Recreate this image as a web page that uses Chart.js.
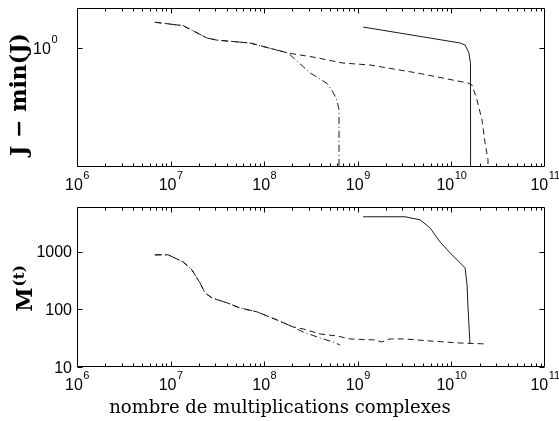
<!DOCTYPE html>
<html>
<head>
<meta charset="utf-8">
<script src="https://cdn.jsdelivr.net/npm/chart.js@4.4.1/dist/chart.umd.min.js"></script>
<style>
  body { margin: 0; background: #fff; }
  #wrap { position: relative; width: 559px; height: 421px; overflow: hidden; }
  canvas { position: absolute; left: 0; }
</style>
</head>
<body>
<div id="wrap">
  <canvas id="chartJ" width="559" height="200" style="top:0px"></canvas>
  <canvas id="chartM" width="559" height="221" style="top:200px"></canvas>
</div>
<script>
// axis ticks
var xTicks = [1e6, 1e7, 1e8, 1e9, 1e10, 1e11];
var jTicks = [1];
var mTicks = [10, 100, 1000];

// top panel: J - min(J)
var jDashDotX = [6.8e6, 1.36e7, 2.45e7, 3.13e7, 7.05e7, 1.37e8, 1.8e8, 3.08e8, 4.69e8, 5.43e8, 6.0e8, 6.3e8, 6.3e8];
var jDashDotY = [1.45, 1.38, 1.155, 1.12, 1.075, 0.97, 0.93, 0.70, 0.60, 0.53, 0.47, 0.41, 0.001];
var jDashX = [6.8e6, 1.36e7, 2.45e7, 3.13e7, 7.05e7, 1.37e8, 1.8e8, 3.32e8, 6.95e8, 1.35e9, 4.29e9, 1.5e10, 1.66e10, 1.88e10, 2.12e10, 2.29e10, 2.46e10, 2.48e10];
var jDashY = [1.45, 1.38, 1.155, 1.12, 1.075, 0.97, 0.93, 0.878, 0.805, 0.783, 0.698, 0.604, 0.587, 0.473, 0.355, 0.255, 0.2, 0.001];
var jSolidX = [1.14e9, 2.82e9, 1.24e10, 1.40e10, 1.54e10, 1.60e10, 1.61e10];
var jSolidY = [1.353, 1.24, 1.075, 1.044, 0.93, 0.80, 0.001];

// bottom panel: M(t)
var mDashDotX = [6.8e6, 9.4e6, 1.36e7, 1.69e7, 2.06e7, 2.33e7, 2.77e7, 4.0e7, 5.5e7, 8.4e7, 1.37e8, 2.03e8, 2.6e8, 3.95e8, 5.43e8, 6.45e8];
var mDashDotY = [887, 887, 670, 486, 289, 194, 158, 130, 106, 90.5, 65.6, 49.6, 40.6, 31.9, 27.2, 24.1];
var mDashX = [6.8e6, 9.4e6, 1.36e7, 1.69e7, 2.06e7, 2.33e7, 2.77e7, 4.0e7, 5.5e7, 8.4e7, 1.37e8, 2.03e8, 2.6e8, 3.95e8, 5.98e8, 8.26e8, 1.53e9, 1.81e9, 2.21e9, 3.19e9, 5.9e9, 1.24e10, 2.4e10];
var mDashY = [887, 887, 670, 486, 289, 194, 158, 130, 106, 90.5, 65.6, 49.6, 45.8, 37.5, 34.6, 30.7, 29.5, 27.2, 30.7, 30.7, 28.3, 26.1, 25.1];
var mSolidX = [1.14e9, 3.19e9, 4.62e9, 5.9e9, 7.55e9, 9.66e9, 1.24e10, 1.40e10, 1.47e10, 1.50e10, 1.54e10, 1.58e10];
var mSolidY = [4060, 4060, 3600, 2610, 1490, 961, 644, 527, 267, 120, 53.7, 25.1];

function pts(xs, ys) {
    return xs.map(function (x, i) { return { x: x, y: ys[i] }; });
}

// a "solid" dash keeps chart.js off its fast path, which mangles the steep drops
var SOLID = [2000, 0];

function line(data, dash) {
    return {
        data: data,
        showLine: true,
        borderColor: '#1a1a1a',
        borderWidth: 1,
        borderDash: dash,
        pointRadius: 0,
        fill: false
    };
}

var BASE_FONT = '16px "Liberation Sans"';
var EXP_FONT = '11px "Liberation Sans"';

// "10" with a raised exponent, like matlab's tick labels
function drawPow(ctx, x, y, v, align) {
    var exp = String(Math.round(Math.log10(v)));
    ctx.font = BASE_FONT;
    var wb = ctx.measureText('10').width;
    ctx.font = EXP_FONT;
    var we = ctx.measureText(exp).width;
    var x0 = align == 'center' ? x - (wb + we) / 2 : x - wb - we;
    ctx.textAlign = 'left';
    ctx.font = BASE_FONT;
    ctx.fillText('10', x0, y);
    ctx.font = EXP_FONT;
    ctx.fillText(exp, x0 + wb + 0.5, y - 11);
}

// box, inward tick marks, tick labels and titles
var matlabAxes = {
    id: 'matlabAxes',
    afterDraw: function (chart, args, o) {
        var a = chart.chartArea, ctx = chart.ctx;
        var sx = chart.scales.x, sy = chart.scales.y;
        var L = Math.round(a.left) + 0.5, R = Math.round(a.right) - 0.5;
        var T = Math.round(a.top) + 0.5, B = Math.round(a.bottom) - 0.5;
        ctx.save();
        ctx.strokeStyle = '#000';
        ctx.lineWidth = 1;
        ctx.beginPath();
        ctx.rect(L, T, R - L, B - T);
        for (var d = 6; d <= 10; d++) {
            for (var m = 1; m <= 9; m++) {
                var px = Math.round(sx.getPixelForValue(m * Math.pow(10, d))) + 0.5;
                var len = m == 1 ? 5 : 3;
                ctx.moveTo(px, B); ctx.lineTo(px, B - len);
                ctx.moveTo(px, T); ctx.lineTo(px, T + len);
            }
        }
        o.yTicks.forEach(function (v) {
            var py = Math.round(sy.getPixelForValue(v)) + 0.5;
            ctx.moveTo(L, py); ctx.lineTo(L + 5, py);
            ctx.moveTo(R, py); ctx.lineTo(R - 5, py);
        });
        ctx.stroke();

        ctx.fillStyle = '#000';
        ctx.textBaseline = 'alphabetic';
        xTicks.forEach(function (v) {
            drawPow(ctx, sx.getPixelForValue(v), a.bottom + 23, v, 'center');
        });
        o.yTicks.forEach(function (v) {
            var py = sy.getPixelForValue(v);
            if (o.yPow) {
                drawPow(ctx, a.left - o.yGap, py + 5.5, v, 'right');
            } else {
                ctx.font = BASE_FONT;
                ctx.textAlign = 'right';
                ctx.fillText(String(v), a.left - o.yGap, py + 5.5);
            }
        });

        // x title, centred on the figure as matlab does
        if (o.xTitle) {
            ctx.font = '18px "DejaVu Serif"';
            ctx.textAlign = 'center';
            ctx.fillText(o.xTitle, 280, a.bottom + 46);
        }

        // rotated y title
        ctx.translate(o.titleX, o.titleY);
        ctx.rotate(-Math.PI / 2);
        ctx.textAlign = 'left';
        ctx.font = 'bold 22px "DejaVu Serif"';
        var w1 = ctx.measureText(o.title).width, w2 = 0;
        if (o.titleSup) {
            ctx.font = 'bold 15px "DejaVu Serif"';
            w2 = ctx.measureText(o.titleSup).width;
        }
        var start = -(w1 + w2) / 2;
        ctx.font = 'bold 22px "DejaVu Serif"';
        ctx.fillText(o.title, start, 0);
        if (o.titleSup) {
            ctx.font = 'bold 15px "DejaVu Serif"';
            ctx.fillText(o.titleSup, start + w1 + 1, -8);
        }
        ctx.restore();
    }
};

function makeChart(id, datasets, yMin, yMax, axesOpts, padTop, xHeight) {
    return new Chart(document.getElementById(id), {
        type: 'scatter',
        data: { datasets: datasets },
        plugins: [matlabAxes],
        options: {
            responsive: false,
            animation: false,
            layout: { padding: { left: 0, right: 14, top: padTop, bottom: 0 } },
            plugins: {
                legend: { display: false },
                tooltip: { enabled: false },
                matlabAxes: axesOpts
            },
            scales: {
                x: {
                    type: 'logarithmic',
                    min: 1e6, max: 1e11,
                    grid: { display: false, drawTicks: false },
                    border: { display: false },
                    ticks: { display: false },
                    afterFit: function (s) { s.height = xHeight; }
                },
                y: {
                    type: 'logarithmic',
                    min: yMin, max: yMax,
                    grid: { display: false, drawTicks: false },
                    border: { display: false },
                    ticks: { display: false },
                    afterFit: function (s) { s.width = 77; }
                }
            }
        }
    });
}

makeChart('chartJ', [
    line(pts(jSolidX, jSolidY), SOLID),
    line(pts(jDashX, jDashY), [6, 4]),
    line(pts(jDashDotX, jDashDotY), [7, 3, 1, 3])
], 0.18, 1.78,
   { yTicks: jTicks, yPow: true, yGap: 20, title: 'J − min(J)', titleSup: '', titleX: 26, titleY: 94.5 },
   8, 33);

makeChart('chartM', [
    line(pts(mSolidX, mSolidY), SOLID),
    line(pts(mDashX, mDashY), [6, 4]),
    line(pts(mDashDotX, mDashDotY), [7, 3, 1, 3])
], 10, 6000,
   { yTicks: mTicks, yPow: false, yGap: 5, title: 'M', titleSup: '(t)', titleX: 32, titleY: 89,
     xTitle: 'nombre de multiplications complexes' },
   7, 54);
</script>
</body>
</html>
